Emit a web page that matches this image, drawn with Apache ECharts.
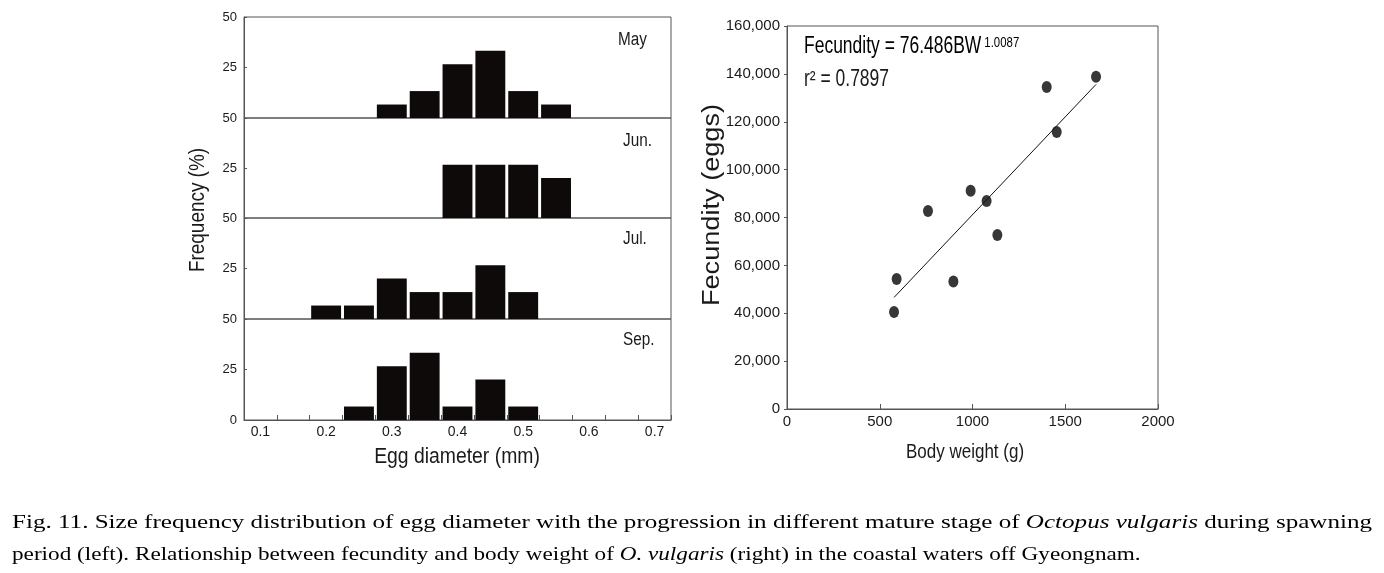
<!DOCTYPE html>
<html><head><meta charset="utf-8">
<script src="https://cdn.jsdelivr.net/npm/echarts@6/dist/echarts.min.js"></script>
<style>html,body{margin:0;padding:0;background:#fff}#c{width:1384px;height:573px}</style>
</head><body><div id="c"></div>
<script>
// ---- data ----
const binLabels = ['0.1','0.15','0.2','0.25','0.3','0.35','0.4','0.45','0.5','0.55','0.6','0.65','0.7'];
const months = ['May', 'Jun.', 'Jul.', 'Sep.'];
const freqMay = [0, 0, 0, 0, 6.67, 13.33, 26.67, 33.33, 13.33, 6.67, 0, 0, 0];
const freqJun = [0, 0, 0, 0, 0, 0, 26.67, 26.67, 26.67, 20, 0, 0, 0];
const freqJul = [0, 0, 6.67, 6.67, 20, 13.33, 13.33, 26.67, 13.33, 0, 0, 0, 0];
const freqSep = [0, 0, 0, 6.67, 26.67, 33.33, 6.67, 20, 6.67, 0, 0, 0, 0];
const bodyWeight = [577, 591, 760, 897, 990, 1076, 1134, 1400, 1454, 1666];
const fecundity = [40500, 54300, 82700, 53300, 91200, 86900, 72700, 134500, 115700, 138800];
const fitBW = [577, 1666];
const fitF = [46600, 135600];
const equationText = 'Fecundity = 76.486BW';
const equationExp = '1.0087';
const r2Text = 'r² = 0.7897';
const leftXTitle = 'Egg diameter (mm)';
const leftYTitle = 'Frequency (%)';
const rightXTitle = 'Body weight (g)';
const rightYTitle = 'Fecundity (eggs)';
const captionLine1 = [['Fig. 11. Size frequency distribution of egg diameter with the progression in different mature stage of ', false],
  ['Octopus vulgaris', true], [' during spawning', false]];
const captionLine2 = [['period (left). Relationship between fecundity and body weight of ', false], ['O. vulgaris', true],
  [' (right) in the coastal waters off Gyeongnam.', false]];

// ---- chart ----
const SANS = "'Liberation Sans', Arial, sans-serif";
const SERIF_NAME = 'Liberation Serif';
const SERIF = "'Liberation Serif', 'Times New Roman', serif";
const AX = '#555';
const TXT = '#1a1a1a';
const BAR = '#0e0a0a';

const freqs = [freqMay, freqJun, freqJul, freqSep];
const gTops = [17, 118, 218, 319];
const gHeights = [101, 100, 101, 101];
const monthPos = [[618, 40], [623, 141], [623, 239], [623, 340]];

const grid = [], xAxis = [], yAxis = [], series = [], graphic = [];
freqs.forEach((f, i) => {
  const last = i === freqs.length - 1;
  grid.push({left: 244, width: 427, top: gTops[i], height: gHeights[i], show: true,
    borderColor: AX, borderWidth: 1, backgroundColor: 'transparent'});
  xAxis.push({type: 'category', gridIndex: i, data: binLabels, boundaryGap: true,
    axisLine: {show: last, lineStyle: {color: AX}},
    axisTick: {show: last, inside: true, length: 5, interval: 0, alignWithLabel: false, lineStyle: {color: AX}},
    axisLabel: {show: last, interval: 1, fontSize: 14, fontFamily: SANS, color: TXT, margin: 5}});
  yAxis.push({type: 'value', gridIndex: i, min: 0, max: 50, interval: 25,
    axisLine: {show: true, lineStyle: {color: AX}},
    axisTick: {show: true, inside: true, length: 3, lineStyle: {color: AX}},
    splitLine: {show: false},
    axisLabel: {fontSize: 13, fontFamily: SANS, color: TXT, margin: 7,
      formatter: v => (v === 0 && !last) ? '' : String(v)}});
  series.push({type: 'bar', xAxisIndex: i, yAxisIndex: i, data: f, barCategoryGap: '9%',
    itemStyle: {color: BAR}, silent: true});
  graphic.push({type: 'text', x: monthPos[i][0], y: monthPos[i][1], scaleX: 0.85,
    style: {text: months[i], fontSize: 18, fontFamily: SANS, fill: TXT, align: 'left', verticalAlign: 'middle'}});
});

// right scatter panel
grid.push({left: 787, width: 371, top: 26, height: 383, show: true, borderColor: AX, borderWidth: 1, backgroundColor: 'transparent'});
xAxis.push({type: 'value', gridIndex: 4, min: 0, max: 2000, interval: 500,
  axisLine: {lineStyle: {color: AX}}, splitLine: {show: false},
  axisTick: {inside: true, length: 5, lineStyle: {color: AX}},
  axisLabel: {fontSize: 15, fontFamily: SANS, color: TXT, margin: 5, formatter: v => String(v)}});
yAxis.push({type: 'value', gridIndex: 4, min: 0, max: 160000, interval: 20000,
  axisLine: {show: true, lineStyle: {color: AX}}, splitLine: {show: false},
  axisTick: {show: true, inside: false, length: 3, lineStyle: {color: AX}},
  axisLabel: {fontSize: 15, fontFamily: SANS, color: TXT, margin: 7,
    formatter: v => v.toLocaleString('en-US')}});
series.push({type: 'line', xAxisIndex: 4, yAxisIndex: 4, data: fitBW.map((x, k) => [x, fitF[k]]),
  showSymbol: false, symbol: 'none', lineStyle: {color: '#111', width: 1}, silent: true});
series.push({type: 'scatter', xAxisIndex: 4, yAxisIndex: 4, data: bodyWeight.map((x, k) => [x, fecundity[k]]),
  symbolSize: [10, 12], itemStyle: {color: '#050505'}, silent: true});

// axis titles (condensed via scaleX)
graphic.push({type: 'text', x: 198, y: 210, rotation: Math.PI / 2, scaleX: 0.86,
  style: {text: leftYTitle, fontSize: 22, fontFamily: SANS, fill: TXT, align: 'center', verticalAlign: 'middle'}});
graphic.push({type: 'text', x: 457, y: 457, scaleX: 0.88,
  style: {text: leftXTitle, fontSize: 22, fontFamily: SANS, fill: TXT, align: 'center', verticalAlign: 'middle'}});
graphic.push({type: 'text', x: 965, y: 452, scaleX: 0.81,
  style: {text: rightXTitle, fontSize: 21, fontFamily: SANS, fill: TXT, align: 'center', verticalAlign: 'middle'}});
graphic.push({type: 'text', x: 713, y: 205, rotation: Math.PI / 2, scaleX: 1.18,
  style: {text: rightYTitle, fontSize: 23, fontFamily: SANS, fill: TXT, align: 'center', verticalAlign: 'middle'}});

graphic.push({type: 'text', x: 804, y: 47, scaleX: 0.76,
  style: {text: '{a|' + equationText + '}{s|' + equationExp + '}', verticalAlign: 'middle', align: 'left',
    rich: {a: {fontSize: 23, fontFamily: SANS, color: TXT},
           s: {fontSize: 15, fontFamily: SANS, color: TXT, verticalAlign: 'top', padding: [0, 0, 0, 4]}}}});
graphic.push({type: 'text', x: 804, y: 80, scaleX: 0.76,
  style: {text: r2Text, fontSize: 23, fontFamily: SANS, fill: TXT, align: 'left', verticalAlign: 'middle'}});

// caption (horizontally stretched serif; line 1 fills 12..1372)
const CAP_SIZE = 19;
const mctx = document.createElement('canvas').getContext('2d');
function capWidth(parts) {
  return parts.reduce((s, [t, it]) => { mctx.font = (it ? 'italic ' : '') + CAP_SIZE + 'px "' + SERIF_NAME + '"'; return s + mctx.measureText(t).width; }, 0);
}
const capRich = {r: {fontFamily: SERIF, fontSize: CAP_SIZE, color: TXT}, i: {fontFamily: SERIF, fontSize: CAP_SIZE, fontStyle: 'italic', color: TXT}};
const richText = parts => parts.map(([t, it]) => '{' + (it ? 'i' : 'r') + '|' + t + '}').join('');
graphic.push({type: 'text', x: 12, y: 523, scaleX: (1372 - 12) / capWidth(captionLine1),
  style: {text: richText(captionLine1), rich: capRich, align: 'left', verticalAlign: 'middle'}});
graphic.push({type: 'text', x: 12, y: 555, scaleX: 1.22,
  style: {text: richText(captionLine2), rich: capRich, align: 'left', verticalAlign: 'middle'}});

const chart = echarts.init(document.getElementById('c'), null, {renderer: 'canvas'});
chart.setOption({animation: false, backgroundColor: '#fff', grid, xAxis, yAxis, series, graphic});
</script></body></html>
